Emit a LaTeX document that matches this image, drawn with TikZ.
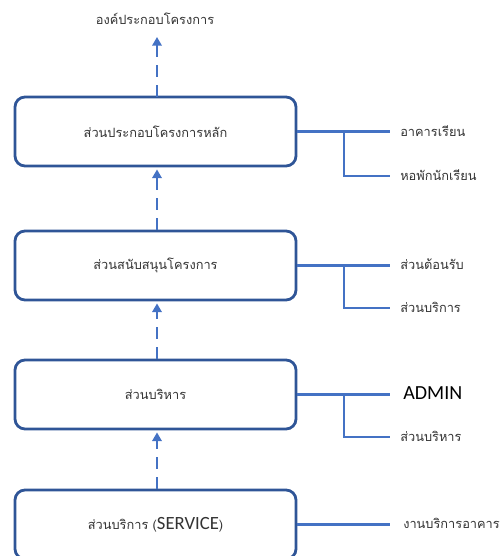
\documentclass[tikz,border=0pt]{standalone}
\usepackage{fontspec}
\newfontfamily\thaifont[Script=Thai]{Loma}
\newfontfamily\calfont{Carlito}
\usetikzlibrary{arrows.meta}
\definecolor{boxblue}{HTML}{2F5597}
\definecolor{lineblue}{HTML}{4472C4}
\newcommand{\thsize}{\thaifont\fontsize{9.6pt}{11pt}\selectfont}
\begin{document}
\begin{tikzpicture}[x=0.75pt,y=-0.75pt,
  part/.style={draw=boxblue,line width=2.1pt,rounded corners=7.5pt,fill=white,
    minimum width=210.75pt,minimum height=51.75pt,inner sep=0pt,
    font=\thsize,text=black!80},
  up/.style={draw=lineblue,line width=2pt,dash pattern=on 9pt off 6pt,
    -{Triangle[width=7pt,length=6.5pt]},shorten >=1.5pt},
  branch/.style={draw=lineblue,line width=2pt},
  leaf/.style={anchor=west,inner sep=0pt,font=\thsize,text=black!80},
  title/.style={inner sep=0pt,font=\thsize,text=black!80}]
\useasboundingbox (0,0) rectangle (499,556);
\node[title] (top) at (155,19) {องค์ประกอบโครงการ};
\node[part] (b1) at (155.5,131.5) {ส่วนประกอบโครงการหลัก};
\node[part] (b2) at (155.5,265.5) {ส่วนสนับสนุนโครงการ};
\node[part] (b3) at (155.5,394.5) {ส่วนบริหาร};
\node[part] (b4) at (155.5,524.5) {ส่วนบริการ (\calfont\fontsize{14pt}{16pt}\selectfont SERVICE\thsize)};
% dashed arrows
\draw[up] (b2.north -| 157,0) -- (b1.south -| 157,0);
\draw[up] (b3.north -| 157,0) -- (b2.south -| 157,0);
\draw[up] (b4.north -| 157,0) -- (b3.south -| 157,0);
\coordinate (t0) at (157,97);
\coordinate (t1) at (157,37);
\draw[up,shorten >=0pt] (t0) -- (t1);
% right branches
\coordinate (e1) at (390,131.5); \coordinate (j1) at (344,131.5);
\coordinate (k1) at (344,176); \coordinate (f1) at (390,176);
\draw[branch] (b1.east) -- (e1);
\draw[branch] (j1) -- (k1) -- (f1);
\node[leaf] (l1a) at (400,131) {อาคารเรียน};
\node[leaf] (l1b) at (400,175) {หอพักนักเรียน};
\coordinate (e2) at (390,265.5); \coordinate (j2) at (344,265.5);
\coordinate (k2) at (344,308); \coordinate (f2) at (390,308);
\draw[branch] (b2.east) -- (e2);
\draw[branch] (j2) -- (k2) -- (f2);
\node[leaf] (l2a) at (400,264) {ส่วนต้อนรับ};
\node[leaf] (l2b) at (400,307) {ส่วนบริการ};
\coordinate (e3) at (390,394.5); \coordinate (j3) at (344,394.5);
\coordinate (k3) at (344,437); \coordinate (f3) at (390,437);
\draw[branch] (b3.east) -- (e3);
\draw[branch] (j3) -- (k3) -- (f3);
\node[leaf,font=\calfont\fontsize{15pt}{17pt}\selectfont,text=black] (l3a) at (403,393) {ADMIN};
\node[leaf] (l3b) at (400,436) {ส่วนบริหาร};
\coordinate (e4) at (390,524.5);
\draw[branch] (b4.east) -- (e4);
\node[leaf] (l4a) at (403,523) {งานบริการอาคาร};
\end{tikzpicture}
\end{document}
